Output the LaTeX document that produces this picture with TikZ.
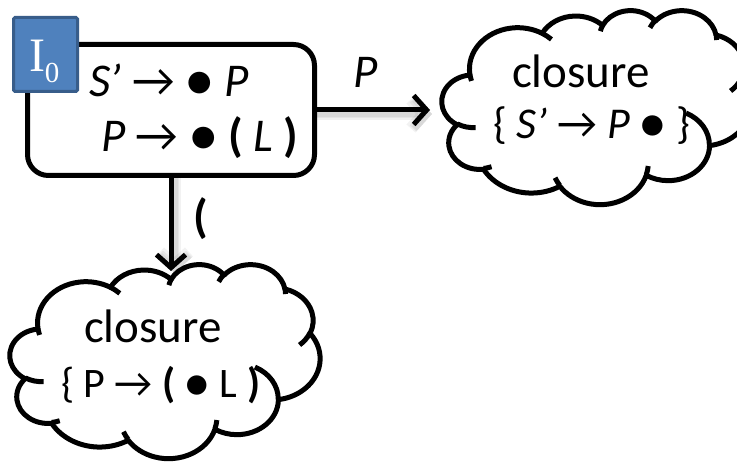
\documentclass[tikz,border=0pt]{standalone}
\usepackage{fontspec}
\setmainfont{Carlito}
\newfontfamily\tagfont{Liberation Serif}
\usetikzlibrary{arrows.meta,calc}

\definecolor{tagfill}{HTML}{4F81BD}
\definecolor{tagline}{HTML}{385D8A}

% One elliptical arc of a cloud outline: x radius, y radius,
% start angle and sweep, angles measured as seen (not parametric).
\newcommand\cldarc[4]{arc[x radius=#1, y radius=#2,
  start angle={atan2(#1*sin(#3),#2*cos(#3))},
  delta angle={mod(atan2(#1*sin((#3)+(#4)),#2*cos((#3)+(#4)))-atan2(#1*sin(#3),#2*cos(#3))-(#4)+540,360)-180+(#4)}]}

% Cloud outline in a 432 x 432 box (y pointing down)
\newcommand\cloudoutline{(39.00,143.70)
  \cldarc{67.53}{91.90}{-114.29249/0.6}{74.26832/0.6}
  \cldarc{53.33}{72.67}{-86.46143/0.6}{53.96714/0.6}
  \cldarc{43.65}{59.45}{-87.48475/0.6}{59.83381/0.6}
  \cldarc{48.57}{65.95}{-78.59164/0.6}{70.34504/0.6}
  \cldarc{53.33}{72.73}{-47.22533/0.6}{65.41615/0.6}
  \cldarc{67.75}{92.20}{-27.76035/0.6}{78.16140/0.6}
  \cldarc{57.85}{78.67}{0.37501/0.6}{68.42000/0.6}
  \cldarc{67.52}{92.15}{13.47096/0.6}{69.10353/0.6}
  \cldarc{77.20}{105.43}{39.74558/0.6}{45.42661/0.6}
  \cldarc{43.60}{59.18}{-164.96525/0.6}{88.04134/0.6}
  \cldarc{43.45}{59.45}{-148.09710/0.6}{91.51131/0.6}
  -- cycle}

% Short inner strokes where the puffs meet
\newcommand\cloudcreases{%
  (46.93,261.77) \cldarc{43.45}{59.45}{52.04520/0.6}{15.85770/0.6}
  (69.28,348.99) \cldarc{43.60}{59.18}{44.16628/0.6}{6.86848/0.6}
  (164.78,390.90) \cldarc{67.52}{92.15}{82.57449/0.6}{8.44866/0.6}
  (288.27,347.51) \cldarc{67.52}{92.15}{3.87196/0.6}{9.59901/0.6}
  (341.29,229.54) \cldarc{57.85}{78.67}{-42.17541/0.6}{42.55042/0.6}
  (417.98,153.54) \cldarc{53.33}{72.73}{18.19082/0.6}{16.65090/0.6}
  (383.24,54.26) \cldarc{48.57}{65.95}{-8.24660/0.6}{8.91534/0.6}
  (290.78,39.52) \cldarc{48.57}{65.95}{-89.50887/0.6}{10.91722/0.6}
  (221.41,47.20) \cldarc{43.65}{59.45}{-98.09656/0.6}{10.61181/0.6}
  (140.00,51.92) \cldarc{67.53}{91.90}{-40.02417/0.6}{7.39161/0.6}
  (41.27,157.89) \cldarc{67.53}{91.90}{94.59261/0.6}{7.11490/0.6}}

\begin{document}
\begin{tikzpicture}[x=1pt,y=1pt,yscale=-1,
  every node/.style={inner sep=0pt, outer sep=0pt},
  txt/.style={anchor=base west, font=\fontsize{47}{47}\selectfont},
  smalltxt/.style={anchor=base west, font=\fontsize{#1}{#1}\selectfont},
  outline/.style={line width=5pt, draw=black, line join=round},
  conn/.style={line width=5pt, -{Straight Barb[length=13pt,width=29pt]}},
  castshadow/.style={line width=#1, draw=black, draw opacity=0.05,
    -{Straight Barb[length=13pt,width=29pt]}},
  cloudbox/.style={minimum width=309, minimum height=194}]
\useasboundingbox (0,0) rectangle (737,465);
\fill[white] (0,0) rectangle (737,465);

% state I0 with its items
\node[outline, rounded corners=21pt, minimum width=287, minimum height=131] (box) at (171,110) {};
\node[fill=tagfill, draw=tagline, line width=3pt, minimum width=64, minimum height=74,
  rounded corners=1.5pt] (tag) at (45.5,54.5) {};
\node[anchor=base west, text=white, font=\tagfont\fontsize{48}{48}\selectfont] (tagtxt) at (29,72)
  {I\raisebox{-11pt}{\fontsize{29}{29}\selectfont 0}};
\node[txt] (itemA) at (89,97) {\textit{S’} → ● \textit{P}};
\node[txt] (itemB) at (101,152) {\textit{P} → ● \textbf{(} \textit{L} \textbf{)}};

% goto targets
\node[cloudbox] (cloudR) at (596.5,107) {};
\node[cloudbox] (cloudB) at (165.5,361) {};

\begin{scope}[shift={(442,10)}, xscale=309/432, yscale=194/432]
  \draw[outline, fill=white] \cloudoutline;
  \draw[outline] \cloudcreases;
\end{scope}
\begin{scope}[shift={(10,264)}, xscale=310/432, yscale=194/432]
  \draw[outline, fill=white] \cloudoutline;
  \draw[outline] \cloudcreases;
\end{scope}

\node[txt] (closR) at (512,88) {closure};
\node[smalltxt=44] (itemR) at (493,139) {\{ \textit{S’} → \textit{P} ● \}};
\node[txt] (closB) at (84,343) {closure};
\node[smalltxt=42] (itemB2) at (61,397) {\{ P → \textbf{(} ● L \textbf{)}};

% transitions, each with a soft drop shadow
\coordinate (rS) at ($(box.east)+(2,4)$);
\coordinate (rE) at ($(box.east -| cloudR.west)+(2,4)$);
\coordinate (dS) at ($(box.south)+(3.5,2)$);
\coordinate (dE) at ($(box.south |- cloudB.north)+(3.5,2)$);
\foreach \w in {12pt,9pt,6.5pt} {
  \draw[castshadow=\w, shorten >=12pt] (rS) -- (rE);
  \draw[castshadow=\w, shorten >=-7pt] (dS) -- (dE);
}
\draw[conn, shorten >=12pt] (box.east) -- (box.east -| cloudR.west);
\draw[conn, shorten >=-7pt] (box.south) -- (box.south |- cloudB.north);

\node[txt] (lblP) at (353,88) {\textit{P}};
\node[txt] (lblParen) at (193,233) {\textbf{(}};
\end{tikzpicture}
\end{document}
